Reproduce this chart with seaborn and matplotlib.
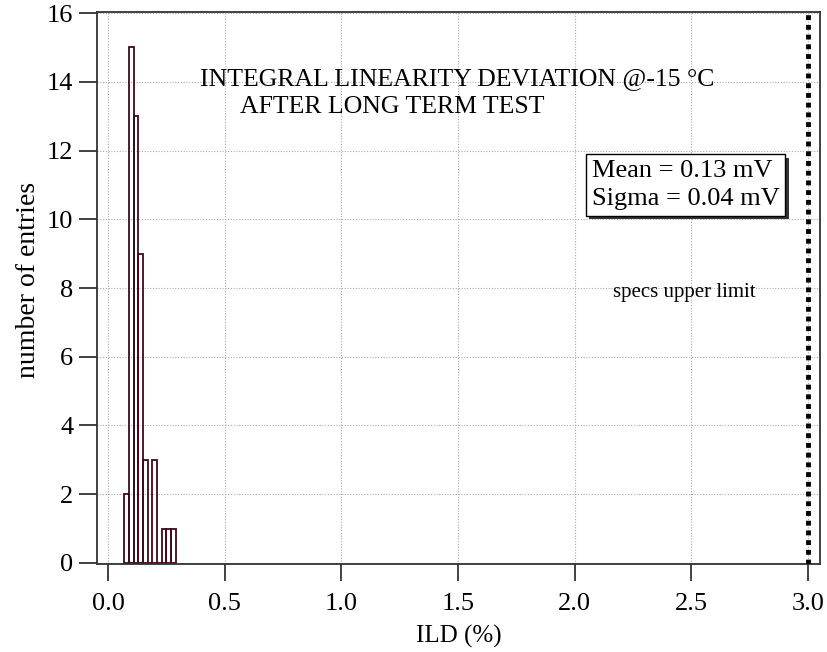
import numpy as np
import matplotlib
matplotlib.use("Agg")
import matplotlib.pyplot as plt
import matplotlib.patheffects as pe
import seaborn as sns
import pandas as pd

# Data
bin_edges = [0.07, 0.09, 0.11, 0.13, 0.15, 0.17, 0.19, 0.21, 0.23, 0.25, 0.27, 0.29]
counts = [2, 15, 13, 9, 3, 0, 3, 0, 1, 1, 1]
spec_limit = 3.0
x_ticks = [0.0, 0.5, 1.0, 1.5, 2.0, 2.5, 3.0]
y_ticks = [0, 2, 4, 6, 8, 10, 12, 14, 16]
title_lines = ["INTEGRAL LINEARITY DEVIATION @-15 °C", "AFTER LONG TERM TEST"]
stats_text = "Mean = 0.13 mV\nSigma = 0.04 mV"

sns.set_style("white")
plt.rcParams['font.family'] = ['Liberation Serif', 'DejaVu Serif']
plt.rcParams['text.color'] = 'black'
plt.rcParams['axes.labelcolor'] = 'black'
plt.rcParams['xtick.color'] = 'black'
plt.rcParams['ytick.color'] = 'black'

centers = [(a + b) / 2 for a, b in zip(bin_edges[:-1], bin_edges[1:])]
df = pd.DataFrame({"ild": centers, "n": counts})

fig = plt.figure(figsize=(8.27, 6.52), dpi=100)
ax = fig.add_axes([97/827, 1-564/652, (820-97)/827, (564-12)/652])

sns.histplot(data=df, x="ild", weights="n", bins=bin_edges, fill=False,
             color="#3d0a1c", linewidth=1.3, ax=ax, element="bars")

ax.axvline(spec_limit, color="black", linestyle=(0, (1, 1)), linewidth=3.5, zorder=5)

ax.set_xlim(-0.047, 3.052)
ax.set_ylim(-0.03, 16.03)
ax.set_xticks(x_ticks)
ax.set_xticklabels([f"{v:.1f}" for v in x_ticks])
ax.set_yticks(y_ticks)
ax.grid(True, color="#aaaaaa", linestyle=(0, (1, 1.5)), linewidth=0.8)
ax.set_axisbelow(True)
for s in ax.spines.values():
    s.set_color("#333333")
    s.set_linewidth(1.3)
ax.tick_params(axis="x", bottom=True, direction="out", length=12, width=1.3,
               color="#333333", labelsize=19, pad=9)
ax.tick_params(axis="y", left=True, direction="out", length=13, width=1.3,
               color="#333333", labelsize=19, pad=4)
ax.set_xlabel("ILD (%)", fontsize=18, labelpad=7)
ax.set_ylabel("number of entries", fontsize=20, labelpad=4)
ax.yaxis.set_label_coords(-0.078, 0.515)

ax.text(0.394, 14.07, title_lines[0], fontsize=18.5, va="center", ha="left")
ax.text(0.566, 13.28, title_lines[1], fontsize=18.5, va="center", ha="left")

t = ax.text(2.074, 11.0, stats_text, fontsize=19, va="center", ha="left",
            linespacing=1.35,
            bbox=dict(boxstyle="square,pad=0.22", facecolor="white",
                      edgecolor="black", linewidth=1.0))
t.get_bbox_patch().set_path_effects([
    pe.withSimplePatchShadow(offset=(2.5, -2.5), shadow_rgbFace="#333333", alpha=1.0)])

ax.text(2.165, 7.88, "specs upper limit", fontsize=15, va="center", ha="left")

fig.savefig("out.png", dpi=100)
